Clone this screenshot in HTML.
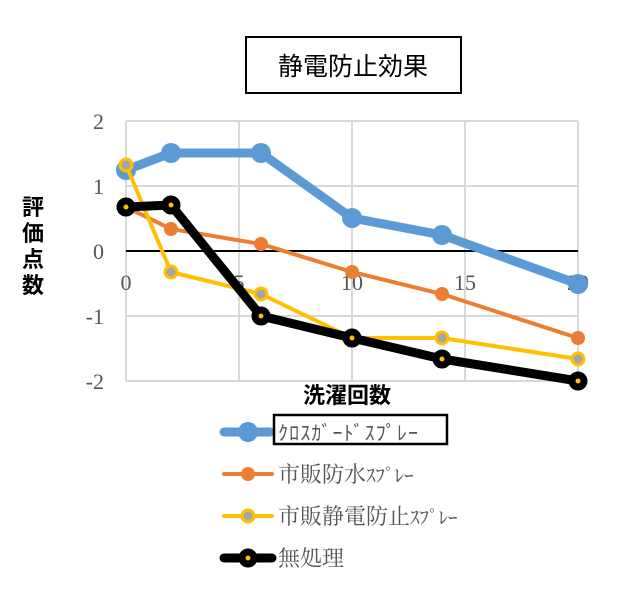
<!DOCTYPE html>
<html><head><meta charset="utf-8"><style>body{margin:0;background:#fff}svg{display:block}</style></head>
<body>
<svg width="640" height="600" xmlns="http://www.w3.org/2000/svg" font-family="Liberation Serif, Noto Serif CJK SC, serif">
<rect width="640" height="600" fill="#fff"/>
<rect x="246" y="37" width="215" height="56" fill="#fff" stroke="#000" stroke-width="2"/>
<text x="353" y="75" text-anchor="middle" font-size="25" font-family="Liberation Sans, Noto Sans CJK JP, sans-serif">静電防止効果</text>
<g stroke="#d9d9d9" stroke-width="2">
<line x1="126" y1="121" x2="578" y2="121"/><line x1="126" y1="186" x2="578" y2="186"/>
<line x1="126" y1="316" x2="578" y2="316"/><line x1="126" y1="381" x2="578" y2="381"/>
<line x1="126" y1="121" x2="126" y2="381"/><line x1="239" y1="121" x2="239" y2="381"/>
<line x1="352" y1="121" x2="352" y2="381"/><line x1="465" y1="121" x2="465" y2="381"/>
<line x1="578" y1="121" x2="578" y2="381"/>
</g>
<line x1="126" y1="251" x2="578" y2="251" stroke="#000" stroke-width="2"/>
<g font-size="22" fill="#555" text-anchor="end">
<text x="104" y="129">2</text><text x="104" y="194">1</text><text x="104" y="259">0</text>
<text x="104" y="324">-1</text><text x="104" y="389">-2</text>
</g>
<g font-size="22" fill="#555" text-anchor="middle">
<text x="126" y="290">0</text><text x="239" y="290">5</text><text x="352" y="290">10</text>
<text x="465" y="290">15</text><text x="578" y="290">20</text>
</g>
<g font-size="22" font-weight="bold" font-family="Liberation Sans, Noto Sans CJK JP, sans-serif" text-anchor="middle">
<text x="33" y="215">評</text><text x="33" y="241">価</text><text x="33" y="267">点</text><text x="33" y="293">数</text>
<text x="347" y="403">洗濯回数</text>
</g>
<polyline points="126,170 171,153 261,153 352,218 442,235 578,284" fill="none" stroke="#5b9bd5" stroke-width="9" stroke-linejoin="round"/>
<g fill="#5b9bd5"><circle cx="126" cy="170" r="10"/><circle cx="171" cy="153" r="10"/><circle cx="261" cy="153" r="10"/><circle cx="352" cy="218" r="10"/><circle cx="442" cy="235" r="10"/><circle cx="578" cy="284" r="10"/></g>
<polyline points="126,207 171,229 261,244 352,272 442,294 578,338" fill="none" stroke="#ed7d31" stroke-width="4"/>
<g fill="#ed7d31"><circle cx="126" cy="207" r="7"/><circle cx="171" cy="229" r="7"/><circle cx="261" cy="244" r="7"/><circle cx="352" cy="272" r="7"/><circle cx="442" cy="294" r="7"/><circle cx="578" cy="338" r="7"/></g>
<polyline points="126,165 171,272 261,294 352,338 442,338 578,359" fill="none" stroke="#ffc000" stroke-width="4"/>
<g fill="#a5a5a5" stroke="#ffc000" stroke-width="3"><circle cx="126" cy="165" r="6"/><circle cx="171" cy="272" r="6"/><circle cx="261" cy="294" r="6"/><circle cx="352" cy="338" r="6"/><circle cx="442" cy="338" r="6"/><circle cx="578" cy="359" r="6"/></g>
<polyline points="126,207 171,205 261,316 352,338 442,359 578,381" fill="none" stroke="#000" stroke-width="9" stroke-linejoin="round"/>
<g fill="#ffc000" stroke="#000" stroke-width="7"><circle cx="126" cy="207" r="6"/><circle cx="171" cy="205" r="6"/><circle cx="261" cy="316" r="6"/><circle cx="352" cy="338" r="6"/><circle cx="442" cy="359" r="6"/><circle cx="578" cy="381" r="6"/></g>
<line x1="224" y1="432" x2="270" y2="432" stroke="#5b9bd5" stroke-width="9" stroke-linecap="round"/>
<circle cx="248" cy="432" r="10" fill="#5b9bd5"/>
<rect x="274" y="415" width="173" height="29" fill="#fff" stroke="#000" stroke-width="2.5"/>
<text x="278" y="440" font-size="20" fill="#555" font-family="Liberation Sans, Noto Sans CJK JP, sans-serif" textLength="140">ｸﾛｽｶﾞｰﾄﾞｽﾌﾟﾚｰ</text>
<line x1="224" y1="474" x2="272" y2="474" stroke="#ed7d31" stroke-width="4" stroke-linecap="round"/>
<circle cx="248" cy="474" r="7" fill="#ed7d31"/>
<text x="278" y="482" font-size="22" fill="#555">市販防水<tspan font-size="19">ｽﾌﾟﾚｰ</tspan></text>
<line x1="224" y1="516" x2="272" y2="516" stroke="#ffc000" stroke-width="4" stroke-linecap="round"/>
<circle cx="248" cy="516" r="6" fill="#a5a5a5" stroke="#ffc000" stroke-width="3"/>
<text x="278" y="524" font-size="22" fill="#555">市販静電防止<tspan font-size="19">ｽﾌﾟﾚｰ</tspan></text>
<line x1="224" y1="558" x2="272" y2="558" stroke="#000" stroke-width="9" stroke-linecap="round"/>
<circle cx="248" cy="558" r="6" fill="#ffc000" stroke="#000" stroke-width="7"/>
<text x="278" y="566" font-size="22" fill="#555">無処理</text>
</svg>
</body></html>
